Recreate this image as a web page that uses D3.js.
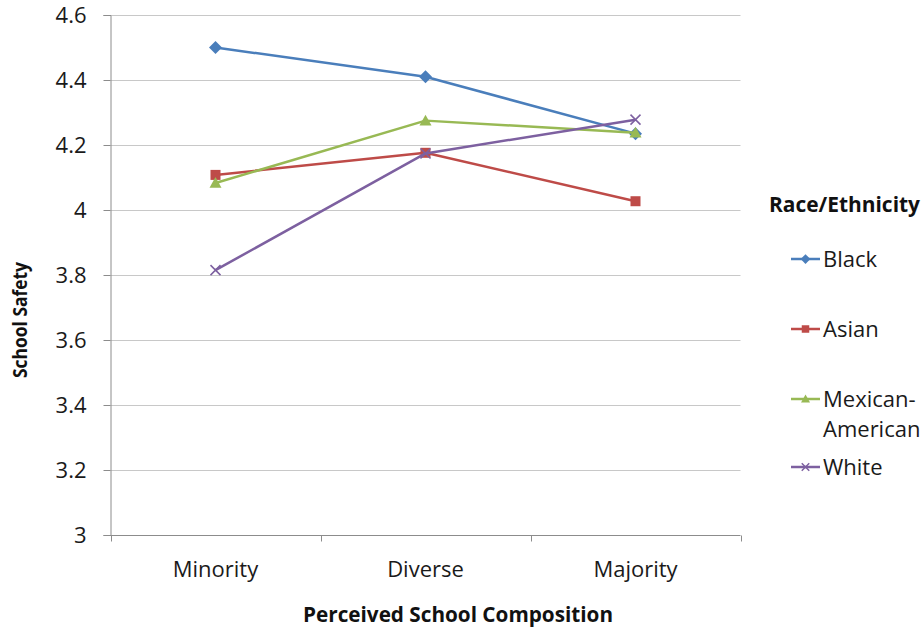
<!DOCTYPE html>
<html>
<head>
<meta charset="utf-8">
<script src="https://cdn.jsdelivr.net/npm/d3@7"></script>
<style>
  html, body { margin: 0; padding: 0; background: #fff; }
  svg { display: block; font-family: "Open Sans", Lato, sans-serif; }
</style>
</head>
<body>
<svg id="chart" width="922" height="632"></svg>
<script>
// Perceived school composition categories
const categories = ["Minority", "Diverse", "Majority"];

// Mean school safety by race/ethnicity
const black = [4.50, 4.41, 4.235];
const asian = [4.108, 4.176, 4.027];
const mexicanAmerican = [4.083, 4.275, 4.238];
const white = [3.815, 4.174, 4.278];

const yTicks = [3, 3.2, 3.4, 3.6, 3.8, 4, 4.2, 4.4, 4.6];
const yTickLabels = ["3", "3.2", "3.4", "3.6", "3.8", "4", "4.2", "4.4", "4.6"];

const series = [
  { name: "Black", values: black, color: "#4a7ebb", marker: "diamond" },
  { name: "Asian", values: asian, color: "#be4b48", marker: "square" },
  { name: "Mexican-American", lines: ["Mexican-", "American"], values: mexicanAmerican, color: "#98b954", marker: "triangle" },
  { name: "White", values: white, color: "#7d60a0", marker: "cross" }
];

const FONT = "'Open Sans', Lato, sans-serif";
const FS = 22;
const svg = d3.select("#chart");
const plot = { left: 110.5, right: 740.5, top: 15, bottom: 535 };

const x = d3.scaleBand().domain(categories).range([plot.left, plot.right]);
const y = d3.scaleLinear().domain([3, 4.6]).range([plot.bottom, plot.top]);

// Horizontal gridlines
svg.append("g")
  .selectAll("line")
  .data(yTicks.filter(t => t !== 3))
  .join("line")
  .attr("x1", plot.left).attr("x2", plot.right)
  .attr("y1", d => Math.round(y(d)) + 0.5).attr("y2", d => Math.round(y(d)) + 0.5)
  .attr("stroke", "#c8c8c8").attr("stroke-width", 1);

// Y axis
const yAxis = svg.append("g")
  .attr("transform", `translate(${plot.left},0)`)
  .call(d3.axisLeft(y).tickValues(yTicks).tickSize(7).tickPadding(17)
    .tickFormat((d, i) => yTickLabels[i]));
yAxis.select(".domain").attr("stroke", "#8c8c8c");
yAxis.selectAll(".tick line").attr("stroke", "#8c8c8c");
yAxis.selectAll(".tick text").attr("font-size", FS).attr("fill", "#1a1a1a")
  .attr("font-family", FONT).attr("dy", "0.36em");

// X axis with boundary ticks between categories
const xg = svg.append("g").attr("transform", `translate(0,${plot.bottom + 0.5})`);
xg.append("line").attr("x1", plot.left).attr("x2", plot.right)
  .attr("stroke", "#8c8c8c");
const bounds = categories.map(c => x(c)).concat([x(categories[categories.length - 1]) + x.bandwidth()]);
xg.selectAll("line.b").data(bounds).join("line").attr("class", "b")
  .attr("x1", d => Math.round(d) + 0.5).attr("x2", d => Math.round(d) + 0.5)
  .attr("y1", 0).attr("y2", 6).attr("stroke", "#8c8c8c");
xg.selectAll("text").data(categories).join("text")
  .attr("x", d => x(d) + x.bandwidth() / 2)
  .attr("y", 41.5)
  .attr("text-anchor", "middle")
  .attr("font-size", FS).attr("fill", "#1a1a1a")
  .text(d => d);

// Axis titles
svg.append("text")
  .attr("x", 458).attr("y", 622)
  .attr("text-anchor", "middle")
  .attr("font-size", 21).attr("font-weight", "bold").attr("fill", "#111")
  .attr("textLength", 310).attr("lengthAdjust", "spacingAndGlyphs")
  .text("Perceived School Composition");
svg.append("text")
  .attr("transform", "translate(27,320) rotate(-90)")
  .attr("text-anchor", "middle")
  .attr("font-size", 20).attr("font-weight", "bold").attr("fill", "#111")
  .attr("textLength", 116).attr("lengthAdjust", "spacingAndGlyphs")
  .text("School Safety");

// Marker shapes
function drawMarker(g, type, color, cx, cy, scale = 1) {
  if (type === "diamond") {
    const s = 6.5 * scale;
    g.append("path").attr("d", `M${cx},${cy - s}L${cx + s},${cy}L${cx},${cy + s}L${cx - s},${cy}Z`)
      .attr("fill", color);
  } else if (type === "square") {
    const s = 5 * scale;
    g.append("rect").attr("x", cx - s).attr("y", cy - s).attr("width", 2 * s).attr("height", 2 * s)
      .attr("fill", color);
  } else if (type === "triangle") {
    const s = 6 * scale;
    g.append("path").attr("d", `M${cx},${cy - s}L${cx + s},${cy + s * 0.8}L${cx - s},${cy + s * 0.8}Z`)
      .attr("fill", color);
  } else if (type === "cross") {
    const s = 5 * scale;
    g.append("path").attr("d", `M${cx - s},${cy - s}L${cx + s},${cy + s}M${cx - s},${cy + s}L${cx + s},${cy - s}`)
      .attr("stroke", color).attr("stroke-width", 1.5).attr("fill", "none");
  }
}

// Series lines and markers
const line = d3.line()
  .x((d, i) => x(categories[i]) + x.bandwidth() / 2)
  .y(d => y(d));

series.forEach(s => {
  const g = svg.append("g");
  g.append("path").datum(s.values)
    .attr("d", line)
    .attr("fill", "none").attr("stroke", s.color).attr("stroke-width", 2.5)
    .attr("stroke-linejoin", "round");
  s.values.forEach((v, i) => {
    drawMarker(g, s.marker, s.color, x(categories[i]) + x.bandwidth() / 2, y(v));
  });
});

// Legend
const legend = svg.append("g");
legend.append("text")
  .attr("x", 769).attr("y", 212)
  .attr("font-size", 21).attr("font-weight", "bold").attr("fill", "#111")
  .attr("textLength", 151).attr("lengthAdjust", "spacingAndGlyphs")
  .text("Race/Ethnicity");
const legendY = [259, 329, 399, 467];
series.forEach((s, i) => {
  const cy = legendY[i];
  const g = legend.append("g");
  g.append("line").attr("x1", 791).attr("x2", 820).attr("y1", cy).attr("y2", cy)
    .attr("stroke", s.color).attr("stroke-width", 2.5);
  drawMarker(g, s.marker, s.color, 805.5, cy, 0.75);
  const lines = s.lines || [s.name];
  lines.forEach((t, j) => {
    g.append("text")
      .attr("x", 823).attr("y", cy + 8 + j * 30)
      .attr("font-size", FS).attr("fill", "#1a1a1a")
      .text(t);
  });
});
</script>
</body>
</html>
